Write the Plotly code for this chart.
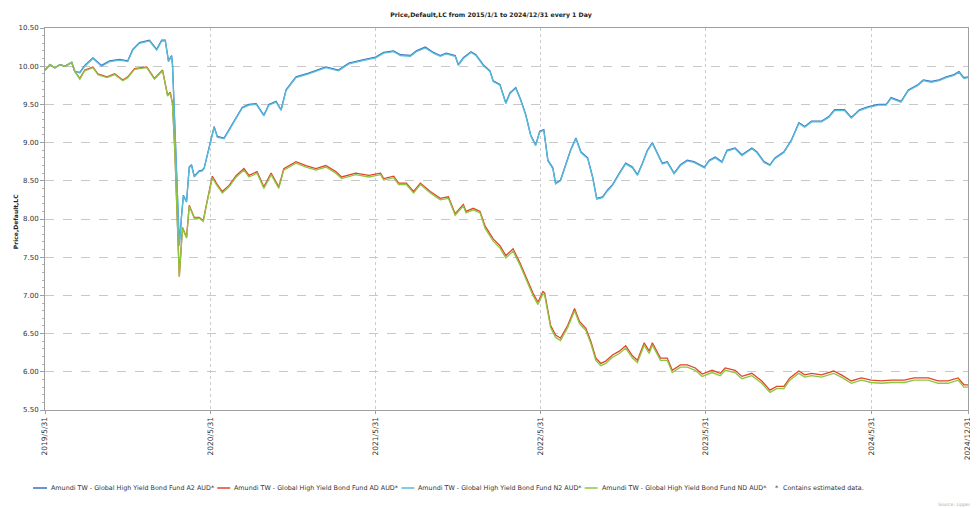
import plotly.graph_objects as go

# ---------------- data ----------------
dates_a2 = [
    "2019-05-31", "2019-06-11", "2019-06-22", "2019-07-03", "2019-07-14", "2019-07-29", "2019-08-05",
    "2019-08-16", "2019-08-27", "2019-09-14", "2019-10-03", "2019-10-21", "2019-11-12", "2019-11-30",
    "2019-12-11", "2019-12-26", "2020-01-17", "2020-02-02", "2020-02-13", "2020-02-21", "2020-02-28",
    "2020-03-06", "2020-03-08", "2020-03-13", "2020-03-18", "2020-03-23", "2020-03-28", "2020-04-01",
    "2020-04-08", "2020-04-14", "2020-04-19", "2020-04-25", "2020-05-06", "2020-05-13", "2020-05-17",
    "2020-05-28", "2020-06-08", "2020-06-15", "2020-06-30", "2020-07-11", "2020-07-27", "2020-08-09",
    "2020-08-24", "2020-09-09", "2020-09-26", "2020-10-07", "2020-10-23", "2020-11-03", "2020-11-14",
    "2020-12-06", "2021-01-03", "2021-02-10", "2021-03-10", "2021-04-02", "2021-04-30", "2021-05-31",
    "2021-06-18", "2021-07-10", "2021-07-25", "2021-08-16", "2021-08-29", "2021-09-18", "2021-10-06",
    "2021-10-21", "2021-11-03", "2021-11-23", "2021-11-30", "2021-12-11", "2021-12-28", "2022-01-08",
    "2022-01-24", "2022-02-08", "2022-02-15", "2022-03-02", "2022-03-15", "2022-03-24", "2022-04-06",
    "2022-04-17", "2022-04-28", "2022-05-09", "2022-05-20", "2022-05-29", "2022-06-07", "2022-06-16",
    "2022-06-27", "2022-07-03", "2022-07-14", "2022-07-23", "2022-08-05", "2022-08-17", "2022-08-28",
    "2022-09-12", "2022-09-23", "2022-10-02", "2022-10-15", "2022-10-26", "2022-11-06", "2022-11-21",
    "2022-12-05", "2022-12-20", "2022-12-31", "2023-01-11", "2023-01-22", "2023-02-02", "2023-02-13",
    "2023-02-24", "2023-03-07", "2023-03-22", "2023-04-05", "2023-04-20", "2023-05-05", "2023-05-28",
    "2023-06-08", "2023-06-21", "2023-07-06", "2023-07-17", "2023-08-04", "2023-08-19", "2023-09-10",
    "2023-09-21", "2023-10-07", "2023-10-20", "2023-10-31", "2023-11-20", "2023-12-07", "2023-12-23",
    "2024-01-05", "2024-01-20", "2024-02-11", "2024-02-27", "2024-03-11", "2024-04-02", "2024-04-17",
    "2024-05-05", "2024-05-25", "2024-06-16", "2024-07-03", "2024-07-14", "2024-08-05", "2024-08-21",
    "2024-09-12", "2024-09-23", "2024-10-11", "2024-10-28", "2024-11-13", "2024-11-30", "2024-12-11",
    "2024-12-22", "2024-12-31",
]
a2_values = [
    9.95, 10.02, 9.98, 10.02, 10.00, 10.05, 9.93, 9.92, 10.01, 10.11,
    10.01, 10.07, 10.09, 10.07, 10.22, 10.31, 10.34, 10.22, 10.34, 10.34,
    10.07, 10.14, 10.02, 9.30, 8.50, 7.66, 8.05, 8.31, 8.23, 8.68,
    8.71, 8.56, 8.63, 8.64, 8.67, 8.96, 9.21, 9.08, 9.06, 9.17,
    9.34, 9.46, 9.50, 9.51, 9.36, 9.50, 9.54, 9.43, 9.69, 9.86,
    9.91, 9.99, 9.95, 10.04, 10.08, 10.12, 10.18, 10.20, 10.15, 10.14,
    10.20, 10.25, 10.18, 10.14, 10.17, 10.14, 10.02, 10.11, 10.19, 10.15,
    10.02, 9.94, 9.81, 9.76, 9.52, 9.65, 9.72, 9.56, 9.37, 9.10,
    8.97, 9.15, 9.17, 8.77, 8.67, 8.47, 8.51, 8.68, 8.90, 9.06,
    8.88, 8.80, 8.55, 8.27, 8.29, 8.38, 8.45, 8.60, 8.73, 8.68,
    8.58, 8.73, 8.90, 9.00, 8.86, 8.73, 8.75, 8.60, 8.71, 8.77,
    8.75, 8.68, 8.77, 8.81, 8.75, 8.90, 8.93, 8.84, 8.93, 8.88,
    8.75, 8.71, 8.80, 8.88, 9.04, 9.26, 9.21, 9.28, 9.28, 9.34,
    9.43, 9.43, 9.33, 9.43, 9.47, 9.50, 9.50, 9.59, 9.54, 9.69,
    9.76, 9.82, 9.80, 9.82, 9.86, 9.89, 9.93, 9.85, 9.86,
]
n2_values = [
    9.95, 10.02, 9.98, 10.02, 10.00, 10.05, 9.93, 9.91, 10.00, 10.10,
    10.00, 10.06, 10.08, 10.06, 10.21, 10.30, 10.33, 10.21, 10.33, 10.33,
    10.06, 10.13, 10.01, 9.29, 8.49, 7.65, 8.04, 8.30, 8.22, 8.67,
    8.70, 8.55, 8.62, 8.63, 8.66, 8.95, 9.20, 9.07, 9.05, 9.16,
    9.33, 9.45, 9.49, 9.50, 9.35, 9.49, 9.53, 9.42, 9.68, 9.85,
    9.90, 9.98, 9.94, 10.03, 10.07, 10.11, 10.17, 10.19, 10.14, 10.13,
    10.19, 10.24, 10.17, 10.13, 10.16, 10.13, 10.01, 10.10, 10.18, 10.14,
    10.01, 9.93, 9.80, 9.75, 9.51, 9.64, 9.71, 9.55, 9.36, 9.09,
    8.96, 9.14, 9.16, 8.76, 8.66, 8.46, 8.50, 8.67, 8.89, 9.05,
    8.87, 8.79, 8.54, 8.26, 8.28, 8.37, 8.44, 8.59, 8.72, 8.67,
    8.57, 8.72, 8.89, 8.99, 8.85, 8.72, 8.74, 8.59, 8.70, 8.76,
    8.74, 8.67, 8.76, 8.80, 8.74, 8.89, 8.92, 8.83, 8.92, 8.87,
    8.74, 8.70, 8.79, 8.87, 9.03, 9.25, 9.20, 9.27, 9.27, 9.33,
    9.42, 9.42, 9.32, 9.42, 9.46, 9.49, 9.49, 9.58, 9.53, 9.68,
    9.75, 9.81, 9.79, 9.81, 9.85, 9.88, 9.92, 9.84, 9.85,
]

dates_ad = [
    "2019-05-31", "2019-06-11", "2019-06-22", "2019-07-03", "2019-07-14", "2019-07-29", "2019-08-05",
    "2019-08-16", "2019-08-27", "2019-09-14", "2019-09-25", "2019-10-15", "2019-11-01", "2019-11-19",
    "2019-11-30", "2019-12-15", "2020-01-11", "2020-01-28", "2020-02-15", "2020-02-26", "2020-03-03",
    "2020-03-08", "2020-03-13", "2020-03-18", "2020-03-23", "2020-03-30", "2020-04-08", "2020-04-14",
    "2020-04-25", "2020-05-06", "2020-05-15", "2020-05-22", "2020-06-04", "2020-06-13", "2020-06-26",
    "2020-07-11", "2020-07-27", "2020-08-13", "2020-08-24", "2020-09-11", "2020-09-26", "2020-10-12",
    "2020-10-29", "2020-11-09", "2020-12-06", "2020-12-28", "2021-01-19", "2021-02-10", "2021-03-04",
    "2021-03-17", "2021-04-17", "2021-05-16", "2021-05-27", "2021-06-11", "2021-06-18", "2021-07-10",
    "2021-07-21", "2021-08-07", "2021-08-23", "2021-09-07", "2021-09-29", "2021-10-21", "2021-11-08",
    "2021-11-23", "2021-12-11", "2021-12-17", "2022-01-02", "2022-01-17", "2022-01-28", "2022-02-15",
    "2022-03-02", "2022-03-15", "2022-03-31", "2022-04-15", "2022-04-28", "2022-05-14", "2022-05-25",
    "2022-06-05", "2022-06-09", "2022-06-16", "2022-06-22", "2022-07-03", "2022-07-14", "2022-07-30",
    "2022-08-14", "2022-08-25", "2022-09-08", "2022-09-19", "2022-09-30", "2022-10-11", "2022-10-22",
    "2022-11-06", "2022-11-21", "2022-12-05", "2022-12-20", "2022-12-31", "2023-01-15", "2023-01-26",
    "2023-02-02", "2023-02-20", "2023-03-07", "2023-03-18", "2023-04-05", "2023-04-20", "2023-05-08",
    "2023-05-23", "2023-06-14", "2023-07-02", "2023-07-13", "2023-08-04", "2023-08-19", "2023-09-10",
    "2023-10-02", "2023-10-20", "2023-11-04", "2023-11-20", "2023-12-03", "2023-12-23", "2024-01-05",
    "2024-01-20", "2024-02-11", "2024-03-09", "2024-03-26", "2024-04-17", "2024-05-09", "2024-05-31",
    "2024-06-22", "2024-07-14", "2024-08-12", "2024-09-03", "2024-10-04", "2024-10-26", "2024-11-17",
    "2024-12-09", "2024-12-22", "2024-12-31",
]
nd_values = [
    9.95, 10.02, 9.98, 10.02, 10.00, 10.05, 9.93,
    9.83, 9.94, 9.98, 9.89, 9.85, 9.89, 9.81, 9.85, 9.96, 9.98, 9.83, 9.94, 9.61, 9.65, 9.50,
    8.90, 8.00, 7.24, 7.88, 7.75, 8.17, 8.01, 8.01, 7.97, 8.18,
    8.54, 8.45, 8.34, 8.42, 8.55, 8.64, 8.55, 8.60, 8.40, 8.58, 8.40, 8.64, 8.73, 8.68, 8.64, 8.68, 8.60, 8.53,
    8.58, 8.55, 8.56, 8.58, 8.51, 8.54, 8.45, 8.45, 8.34, 8.45, 8.34, 8.25, 8.27, 8.05, 8.17, 8.08, 8.12, 8.08,
    7.88, 7.71, 7.62, 7.49, 7.58, 7.40, 7.22, 7.00, 6.88, 7.02, 7.00, 6.74, 6.58, 6.45, 6.41, 6.58,
    6.80, 6.63, 6.54, 6.37, 6.15, 6.08, 6.11, 6.19, 6.24, 6.31, 6.18, 6.12, 6.35, 6.24, 6.35, 6.15,
    6.15, 5.99, 6.06, 6.06, 6.02, 5.94, 5.99, 5.95, 6.02, 5.99, 5.91, 5.95, 5.85, 5.73, 5.78, 5.78,
    5.89, 5.98, 5.93, 5.95, 5.93, 5.98, 5.93, 5.85, 5.89, 5.86, 5.85, 5.86, 5.86, 5.89, 5.89, 5.85,
    5.85, 5.89, 5.80, 5.80,
]
ad_values = [
    9.95, 10.02, 9.98, 10.02, 10.00, 10.05, 9.93,
    9.84, 9.95, 9.99, 9.90, 9.86, 9.90, 9.82, 9.86, 9.97, 9.99, 9.84, 9.95, 9.62, 9.66, 9.51,
    8.91, 8.01, 7.25, 7.89, 7.76, 8.18, 8.02, 8.02, 7.98, 8.19,
    8.56, 8.47, 8.36, 8.44, 8.57, 8.66, 8.57, 8.62, 8.42, 8.60, 8.42, 8.66, 8.75, 8.70, 8.66, 8.70, 8.62, 8.55,
    8.60, 8.57, 8.58, 8.60, 8.53, 8.56, 8.47, 8.47, 8.36, 8.47, 8.36, 8.27, 8.29, 8.07, 8.19, 8.10, 8.14, 8.10,
    7.91, 7.74, 7.65, 7.52, 7.61, 7.43, 7.25, 7.03, 6.91, 7.05, 7.03, 6.77, 6.61, 6.48, 6.44, 6.61,
    6.83, 6.66, 6.57, 6.40, 6.18, 6.11, 6.14, 6.22, 6.27, 6.34, 6.21, 6.15, 6.38, 6.27, 6.38, 6.18,
    6.18, 6.02, 6.09, 6.09, 6.05, 5.97, 6.02, 5.98, 6.05, 6.02, 5.94, 5.98, 5.88, 5.76, 5.81, 5.81,
    5.92, 6.01, 5.96, 5.98, 5.96, 6.01, 5.96, 5.88, 5.92, 5.89, 5.88, 5.89, 5.89, 5.92, 5.92, 5.88,
    5.88, 5.92, 5.83, 5.83,
]

assert len(dates_a2) == len(a2_values) == len(n2_values), (len(dates_a2), len(a2_values), len(n2_values))
assert len(dates_ad) == len(nd_values) == len(ad_values), (len(dates_ad), len(nd_values), len(ad_values))

series_names = [
    "Amundi TW - Global High Yield Bond Fund A2 AUD*",
    "Amundi TW - Global High Yield Bond Fund AD AUD*",
    "Amundi TW - Global High Yield Bond Fund N2 AUD*",
    "Amundi TW - Global High Yield Bond Fund ND AUD*",
]
series_colors = ["#3b6fc2", "#e0462a", "#55bdd8", "#8dc63f"]

x_tick_dates = ["2019-05-31", "2020-05-31", "2021-05-31", "2022-05-31", "2023-05-31", "2024-05-31", "2024-12-31"]
x_tick_labels = ["2019/5/31", "2020/5/31", "2021/5/31", "2022/5/31", "2023/5/31", "2024/5/31", "2024/12/31"]

title_text = "Price,Default,LC from 2015/1/1 to 2024/12/31 every 1 Day"
y_title = "Price,Default,LC"
note_text = "Contains estimated data."
source_text = "Source: Lipper"

# ---------------- figure ----------------
FONT = "DejaVu Sans"
fig = go.Figure()
xs = [dates_a2, dates_ad, dates_a2, dates_ad]
ys = [a2_values, ad_values, n2_values, nd_values]
for name, color, x, y in zip(series_names, series_colors, xs, ys):
    fig.add_trace(go.Scatter(x=x, y=y, mode="lines", name=name,
                             line=dict(color=color, width=1.3), showlegend=False))

# the page body adds an 8px offset; size the figure so the picture lands where the reference is
OFF = 8
W, H = 970, 500
ML, MR, MT, MB = 45 - OFF, 6, 28 - OFF, 98
PW, PH = W - ML - MR, H - MT - MB


def px(xp):  # reference pixel x -> paper x
    return (xp - OFF - ML) / PW


def py(yp):  # reference pixel y -> paper y
    return (H - MB - (yp - OFF)) / PH


fig.update_layout(
    width=W, height=H,
    margin=dict(l=ML, r=MR, t=MT, b=MB),
    paper_bgcolor="white", plot_bgcolor="white",
    font=dict(family=FONT, size=7, color="#333333"),
    title=dict(text="<b>" + title_text + "</b>", x=(491 - OFF) / W, xref="container", xanchor="center",
               y=1 - (15 - OFF) / H, yref="container", yanchor="middle",
               font=dict(family=FONT, size=6.2, color="#222222")),
    xaxis=dict(type="date", range=["2019-05-31", "2024-12-31"],
               tickmode="array", tickvals=x_tick_dates, ticktext=x_tick_labels,
               tickangle=-90, ticks="outside", ticklen=3, tickcolor="#a0a0a0",
               showgrid=True, gridcolor="#cccccc", griddash="dot", gridwidth=1,
               showline=True, linecolor="#a0a0a0", linewidth=1, mirror=True,
               zeroline=False, tickfont=dict(family=FONT, size=7.5, color="#333333")),
    yaxis=dict(range=[5.5, 10.5], tick0=5.5, dtick=0.5, tickformat=".2f",
               ticks="outside", ticklen=4, tickcolor="#a0a0a0",
               minor=dict(dtick=0.1, ticks="outside", ticklen=2, tickcolor="#b0b0b0", showgrid=False),
               showgrid=True, gridcolor="#c8c8c8", griddash="dash", gridwidth=1,
               showline=True, linecolor="#a0a0a0", linewidth=1, mirror=True,
               zeroline=False, tickfont=dict(family=FONT, size=7, color="#333333")),
    showlegend=False,
)

annotations = [
    dict(text="<b>" + y_title + "</b>", xref="paper", yref="paper", x=px(15), y=py(222),
         textangle=-90, showarrow=False, font=dict(family=FONT, size=6, color="#222222"),
         xanchor="center", yanchor="middle"),
    dict(text=source_text, xref="paper", yref="paper", x=px(977), y=py(504), showarrow=False,
         font=dict(family=FONT, size=4.5, color="#aaaaaa"), xanchor="right", yanchor="middle"),
]
shapes = []

# manual legend along the bottom
LEG_FONT = dict(family=FONT, size=6.4, color="#333333")
legend_line_x = [(33, 47), (218, 231), (403, 416), (587, 600)]
legend_text_x = [49, 233, 418, 602]
LEG_Y = 488
for name, color, (x0, x1), tx in zip(series_names, series_colors, legend_line_x, legend_text_x):
    shapes.append(dict(type="line", xref="paper", yref="paper", x0=px(x0), x1=px(x1),
                       y0=py(LEG_Y), y1=py(LEG_Y), line=dict(color=color, width=1.5)))
    annotations.append(dict(text=name, xref="paper", yref="paper", x=px(tx), y=py(LEG_Y),
                            showarrow=False, xanchor="left", yanchor="middle", font=LEG_FONT))
annotations.append(dict(text="*", xref="paper", yref="paper", x=px(776), y=py(LEG_Y),
                        showarrow=False, xanchor="left", yanchor="middle", font=LEG_FONT))
annotations.append(dict(text=note_text, xref="paper", yref="paper", x=px(784), y=py(LEG_Y),
                        showarrow=False, xanchor="left", yanchor="middle", font=LEG_FONT))

fig.update_layout(annotations=annotations, shapes=shapes)
fig.write_html("out.html")
